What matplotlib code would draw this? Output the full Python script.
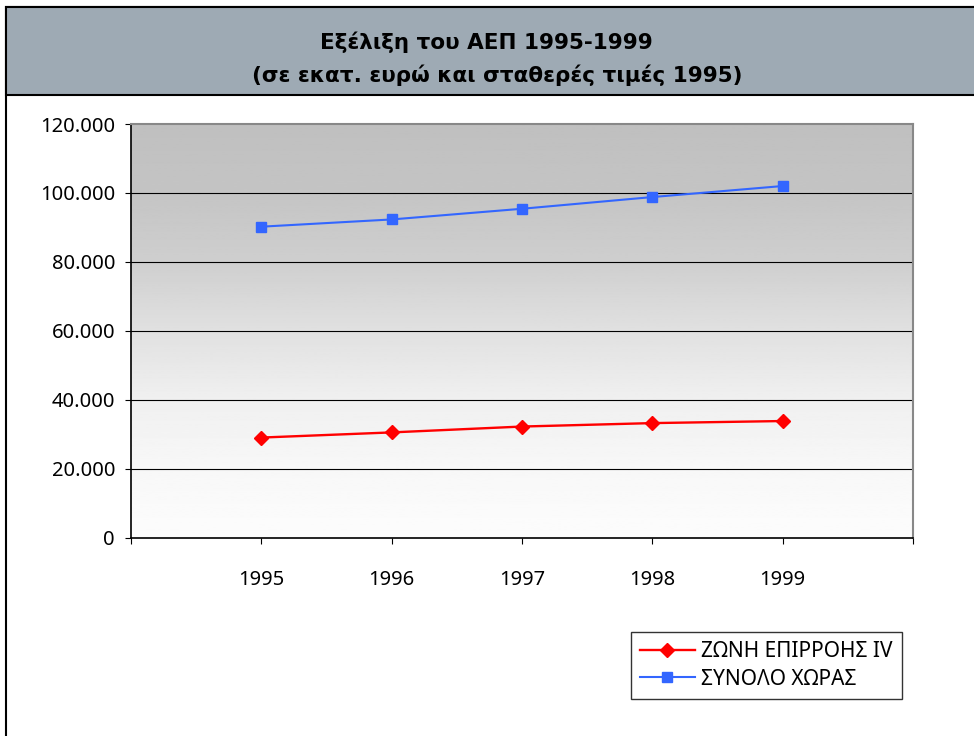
import numpy as np
import matplotlib
matplotlib.use('Agg')
import matplotlib.pyplot as plt
from matplotlib.patches import Rectangle
from matplotlib.ticker import FuncFormatter

plt.rcParams['font.family'] = ['Noto Sans', 'DejaVu Sans']

# data
years = [1995, 1996, 1997, 1998, 1999]
zone_iv = [29000, 30500, 32200, 33200, 33800]
country_total = [90200, 92300, 95400, 98800, 102000]
y_ticks = [0, 20000, 40000, 60000, 80000, 100000, 120000]

RED = '#FF0000'
BLUE = '#3366FF'
TITLE_BG = '#9EAAB4'

W, H = 974, 736
fig = plt.figure(figsize=(W / 100, H / 100), dpi=100)
fig.patch.set_facecolor('white')

# outer chart frame + title band (in pixels)
def px_rect(x0, y0, x1, y1, **kw):
    return Rectangle((x0 / W, 1 - y1 / H), (x1 - x0) / W, (y1 - y0) / H,
                     transform=fig.transFigure, **kw)

fig.patches.append(px_rect(6, 7, W + 10, H + 10, facecolor='white',
                           edgecolor='black', linewidth=1.5, zorder=0))
fig.patches.append(px_rect(6, 7, W + 10, 95, facecolor=TITLE_BG,
                           edgecolor='black', linewidth=1.5, zorder=1))

title_font = dict(family='DejaVu Sans', fontsize=15.5, fontweight='bold')
fig.text(486 / W, 1 - 42 / H, 'Εξέλιξη του ΑΕΠ 1995-1999', ha='center',
         va='center', zorder=3, **title_font)
fig.text(497 / W, 1 - 75 / H, '(σε εκατ. ευρώ και σταθερές τιμές 1995)',
         ha='center', va='center', zorder=3, **title_font)

left, right, top, bottom = 131, 913, 124, 537.5
ax = fig.add_axes([left / W, 1 - bottom / H, (right - left) / W, (bottom - top) / H])
ax.set_zorder(2)

# vertical grey gradient for the plot area
stops = np.array([0.0, 1 / 6, 2 / 6, 3 / 6, 4 / 6, 5 / 6, 1.0])
shades = np.array([0.99, 0.97, 0.94, 0.88, 0.81, 0.77, 0.75])
grad = np.interp(np.linspace(0, 1, 256), stops, shades)[:, None]
ax.imshow(grad, extent=[0, 1, 0, 1], transform=ax.transAxes, origin='lower',
          aspect='auto', cmap='gray', vmin=0, vmax=1, zorder=0)

ax.set_xlim(1994, 2000)
ax.set_ylim(0, 120000)

for v in y_ticks[1:-1]:
    ax.axhline(v, color='black', linewidth=0.8, zorder=1)

ax.plot(years, zone_iv, color=RED, linewidth=1.7, marker='D', markersize=7,
        label='ΖΩΝΗ ΕΠΙΡΡΟΗΣ IV', zorder=3)
ax.plot(years, country_total, color=BLUE, linewidth=1.5, marker='s',
        markersize=7.5, label='ΣΥΝΟΛΟ ΧΩΡΑΣ', zorder=3)

ax.set_yticks(y_ticks)
ax.yaxis.set_major_formatter(FuncFormatter(lambda v, p: f'{int(v):,}'.replace(',', '.')))
ax.set_xticks(range(1994, 2001))
ax.set_xticklabels([''] + [str(y) for y in years] + [''])
ax.tick_params(axis='y', direction='out', length=4.5, width=0.8, pad=7,
               labelsize=14.5, colors='black')
ax.tick_params(axis='x', direction='out', length=4.5, width=0.8, pad=19,
               labelsize=14.5, colors='black')

for side in ['left', 'bottom']:
    ax.spines[side].set_color('black')
    ax.spines[side].set_linewidth(1.2)
for side in ['top', 'right']:
    ax.spines[side].set_color('#888888')
    ax.spines[side].set_linewidth(1.5)

leg = fig.legend(loc='upper left', bbox_to_anchor=(631 / W, 1 - 632 / H),
                 fontsize=15, frameon=True, fancybox=False, edgecolor='black',
                 borderpad=0.45, handlelength=2.6, handletextpad=0.3,
                 labelspacing=0.3, borderaxespad=0)
leg.get_frame().set_linewidth(1.0)

fig.savefig('out.png', dpi=100, facecolor='white')
